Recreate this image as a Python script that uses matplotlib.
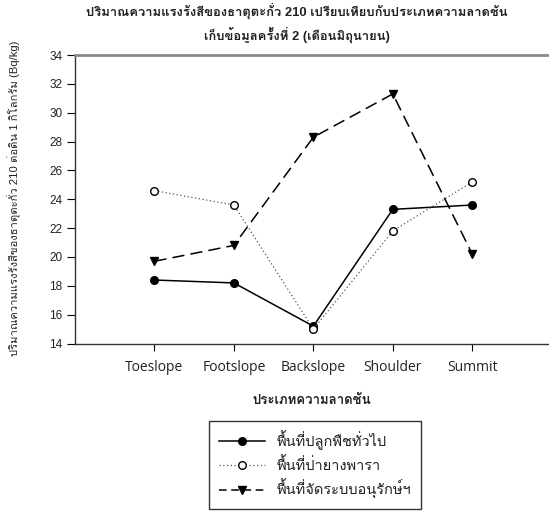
import matplotlib
matplotlib.use("Agg")
import matplotlib.pyplot as plt
from matplotlib.lines import Line2D

# Slope positions and Pb-210 activity per series
slopes = ["Toeslope", "Footslope", "Backslope", "Shoulder", "Summit"]
general_crop = [18.4, 18.2, 15.2, 23.3, 23.6]
rubber_forest = [24.6, 23.6, 15.0, 21.8, 25.2]
conservation = [19.7, 20.8, 28.3, 31.3, 20.2]

series_labels = ["พื้นที่ปลูกพืชทั่วไป", "พื้นที่ป่ายางพารา", "พื้นที่จัดระบบอนุรักษ์ฯ"]
title_text = ("ปริมาณความแรงรังสีของธาตุตะกั่ว 210 เปรียบเทียบกับประเภทความลาดชัน\n"
              "เก็บข้อมูลครั้งที่ 2 (เดือนมิถุนายน)")
ylabel_text = "ปริมาณความแรงรังสีของธาตุตะกั่ว 210 ต่อดิน 1 กิโลกรัม (Bq/kg)"
xlabel_text = "ประเภทความลาดชัน"
yticks = [14, 16, 18, 20, 22, 24, 26, 28, 30, 32, 34]

THAI = ["Liberation Sans", "Loma", "Noto Sans Thai Looped"]
LATIN_TICK = ["Open Sans", "Noto Sans"]

MS = 5.5
solid_style = dict(color="black", lw=1.1, ls="-", marker="o", ms=MS, mfc="black", mec="black")
dotted_style = dict(color="#555555", lw=0.9, ls=(0, (1, 2)), marker="o", ms=MS,
                    mfc="white", mec="black", mew=1.0)
dashed_style = dict(color="black", lw=1.1, ls=(0, (8, 4)), marker="v", ms=MS,
                    mfc="black", mec="black")

fig = plt.figure(figsize=(5.49, 5.15), dpi=100)
ax = fig.add_axes([75 / 549, 1 - 343.5 / 515, 1 - 75 / 549 + 0.002, (343.5 - 55) / 515])

x = list(range(1, len(slopes) + 1))
ax.plot(x, general_crop, label=series_labels[0], **solid_style)
ax.plot(x, rubber_forest, label=series_labels[1], **dotted_style)
ax.plot(x, conservation, label=series_labels[2], **dashed_style)

ax.set_xlim(0, 5.98)
ax.set_ylim(14, 34)
ax.set_yticks(yticks)
ax.set_xticks(x)
ax.set_xticklabels(slopes, family=LATIN_TICK, fontsize=10, color="#222222")
for lab in ax.get_yticklabels():
    lab.set_family("Liberation Sans")
    lab.set_fontsize(8.5)
    lab.set_color("#222222")

ax.tick_params(axis="y", direction="out", length=6, width=0.8, pad=3)
ax.tick_params(axis="x", direction="out", length=5, width=0.8, pad=7)

for side in ("left", "bottom"):
    ax.spines[side].set_color("#333333")
    ax.spines[side].set_linewidth(1.0)
ax.spines["top"].set_color("#8a8a8a")
ax.spines["top"].set_linewidth(2.0)
ax.spines["right"].set_visible(False)

fig.text(297 / 549, 1 - 23 / 515, title_text, ha="center", va="center",
         family=THAI, fontsize=9.4, fontweight="bold", linespacing=1.55, color="#222222")

fig.text(14 / 549, 1 - 198 / 515, ylabel_text, rotation=90, ha="center", va="center",
         family=THAI, fontsize=8.1, color="#222222")

fig.text(312 / 549, 1 - 401 / 515, xlabel_text, ha="center", va="center",
         family=THAI, fontsize=9.5, fontweight="bold", color="#222222")

dashed_legend = dict(dashed_style, ls=(0, (5, 3)))
handles = [Line2D([], [], **solid_style), Line2D([], [], **dotted_style),
           Line2D([], [], **dashed_legend)]
leg = fig.legend(handles, series_labels, loc="center", bbox_to_anchor=(315 / 549, 1 - 465 / 515),
                 prop={"family": THAI, "size": 10.5}, frameon=True, fancybox=False,
                 edgecolor="black", handlelength=3.2, handletextpad=0.8, labelspacing=0.45,
                 borderpad=0.65, borderaxespad=0)
leg.get_frame().set_linewidth(1.0)
for t in leg.get_texts():
    t.set_color("#222222")

fig.savefig("out.png", dpi=100)
